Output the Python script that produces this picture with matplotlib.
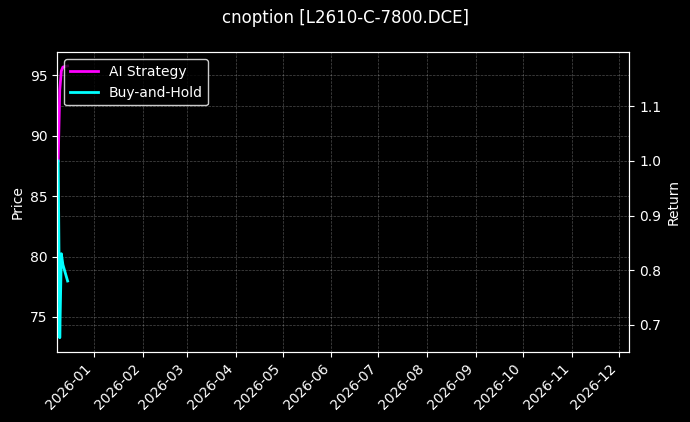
import matplotlib
matplotlib.use('Agg')
import matplotlib.pyplot as plt
import matplotlib.dates as mdates
import pandas as pd

plt.style.use('dark_background')

# values
dates = pd.to_datetime(['2025-12-09', '2025-12-10', '2025-12-11', '2025-12-12', '2025-12-15'])
ai_return = [1.00, 1.13, 1.165, 1.172, 1.174]
bh_return = [1.00, 0.676, 0.83, 0.81, 0.78]

price_lim = [72.1, 96.9]
return_lim = [0.650, 1.199]
x_lim = pd.to_datetime(['2025-12-08 10:00', '2026-12-07 18:00'])

title = 'cnoption [L2610-C-7800.DCE]'


fig, ax = plt.subplots(figsize = (6.9, 4.22), dpi = 100)
plt.subplots_adjust(left = 0.083, right = 0.912, bottom = 0.166, top = 0.876)

ax2 = ax.twinx()

ax2.plot(dates, ai_return, color = 'magenta', lw = 2, label = 'AI Strategy')
ax2.plot(dates, bh_return, color = 'cyan', lw = 2, label = 'Buy-and-Hold')

ax.set(ylim = price_lim, xlim = x_lim, ylabel = 'Price')
ax2.set(ylim = return_lim, ylabel = 'Return')

ax.xaxis.set_major_locator(mdates.MonthLocator())
ax.xaxis.set_major_formatter(mdates.DateFormatter('%Y-%m'))
plt.setp(ax.get_xticklabels(), rotation = 45, ha = 'right')

ax.grid(True, linestyle = '--', linewidth = 0.5, alpha = 0.3)
ax2.grid(True, linestyle = '--', linewidth = 0.5, alpha = 0.3)

ax2.legend(loc = 'upper left', edgecolor = 'white')

fig.suptitle(title, fontsize = 12, y = 0.978)

fig.savefig('out.png')
